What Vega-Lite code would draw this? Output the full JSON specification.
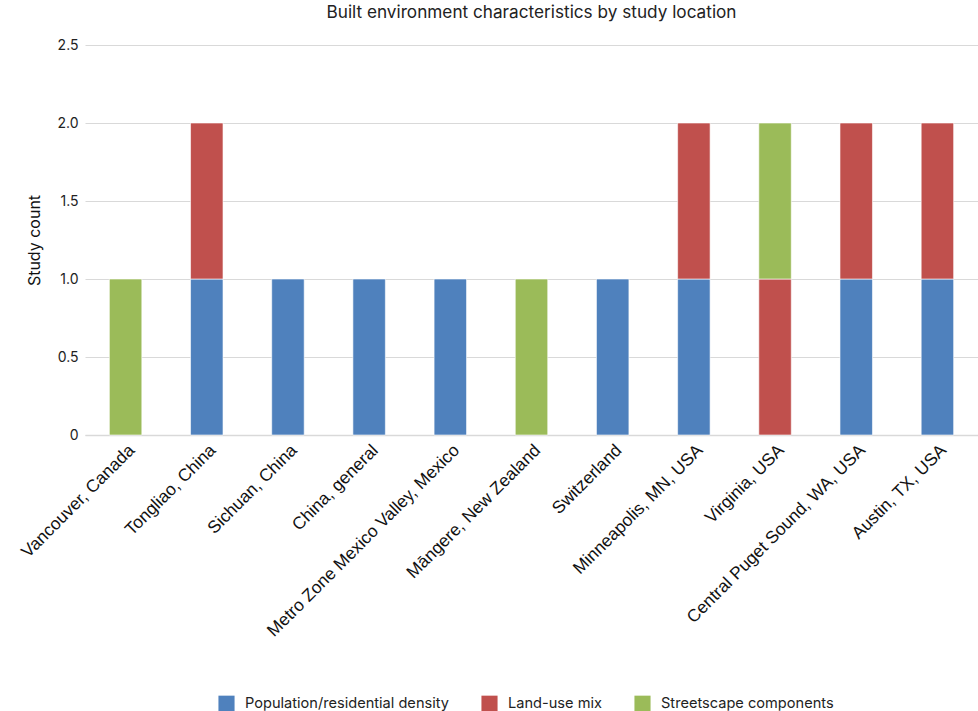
{
  "$schema": "https://vega.github.io/schema/vega-lite/v6.json",
  "autosize": {"type": "none"},
  "padding": {"left": 85, "top": 45, "right": 0, "bottom": 276},
  "width": 893,
  "height": 390,
  "background": "#ffffff",
  "title": {
    "text": "Built environment characteristics by study location",
    "font": "Inter",
    "fontSize": 17.2,
    "fontWeight": "normal",
    "color": "#222222",
    "anchor": "middle",
    "offset": 17
  },
  "data": {
    "values": [
      {"location": "Vancouver, Canada", "characteristic": "Streetscape components", "rank": 3, "count": 1},
      {"location": "Tongliao, China", "characteristic": "Population/residential density", "rank": 1, "count": 1},
      {"location": "Tongliao, China", "characteristic": "Land-use mix", "rank": 2, "count": 1},
      {"location": "Sichuan, China", "characteristic": "Population/residential density", "rank": 1, "count": 1},
      {"location": "China, general", "characteristic": "Population/residential density", "rank": 1, "count": 1},
      {"location": "Metro Zone Mexico Valley, Mexico", "characteristic": "Population/residential density", "rank": 1, "count": 1},
      {"location": "Māngere, New Zealand", "characteristic": "Streetscape components", "rank": 3, "count": 1},
      {"location": "Switzerland", "characteristic": "Population/residential density", "rank": 1, "count": 1},
      {"location": "Minneapolis, MN, USA", "characteristic": "Population/residential density", "rank": 1, "count": 1},
      {"location": "Minneapolis, MN, USA", "characteristic": "Land-use mix", "rank": 2, "count": 1},
      {"location": "Virginia, USA", "characteristic": "Land-use mix", "rank": 2, "count": 1},
      {"location": "Virginia, USA", "characteristic": "Streetscape components", "rank": 3, "count": 1},
      {"location": "Central Puget Sound, WA, USA", "characteristic": "Population/residential density", "rank": 1, "count": 1},
      {"location": "Central Puget Sound, WA, USA", "characteristic": "Land-use mix", "rank": 2, "count": 1},
      {"location": "Austin, TX, USA", "characteristic": "Population/residential density", "rank": 1, "count": 1},
      {"location": "Austin, TX, USA", "characteristic": "Land-use mix", "rank": 2, "count": 1}
    ]
  },
  "mark": {"type": "bar", "stroke": "#ffffff", "strokeOpacity": 0.6, "strokeWidth": 1},
  "encoding": {
    "x": {
      "field": "location",
      "type": "nominal",
      "sort": null,
      "scale": {"paddingInner": 0.6, "paddingOuter": 0.3},
      "axis": {
        "title": null,
        "labelAngle": -45,
        "labelFont": "Liberation Sans",
        "labelFontSize": 17.4,
        "labelColor": "#111111",
        "labelPadding": 6,
        "ticks": false,
        "domainColor": "#d9d9d9",
        "domainWidth": 1.5,
        "labelLimit": 400
      }
    },
    "y": {
      "field": "count",
      "type": "quantitative",
      "stack": "zero",
      "scale": {"domain": [0, 2.5], "nice": false},
      "axis": {
        "title": "Study count",
        "titleFont": "Inter",
        "titleFontSize": 16,
        "titleFontWeight": "normal",
        "titleColor": "#111111",
        "titlePadding": 14,
        "values": [0, 0.5, 1, 1.5, 2, 2.5],
        "labelExpr": "datum.value == 0 ? '0' : format(datum.value, '.1f')",
        "labelFont": "Inter",
        "labelFontSize": 14,
        "labelColor": "#222222",
        "labelPadding": 7,
        "ticks": false,
        "domain": false,
        "gridColor": "#d9d9d9",
        "gridWidth": 1
      }
    },
    "color": {
      "field": "characteristic",
      "type": "nominal",
      "scale": {
        "domain": ["Population/residential density", "Land-use mix", "Streetscape components"],
        "range": ["#4f81bd", "#c0504d", "#9bbb59"]
      },
      "legend": {
        "title": null,
        "orient": "none",
        "legendX": 133,
        "legendY": 650,
        "direction": "horizontal",
        "symbolType": "square",
        "symbolSize": 260,
        "symbolStrokeWidth": 0,
        "labelFont": "Inter",
        "labelFontSize": 14.6,
        "labelColor": "#222222",
        "labelLimit": 400,
        "labelOffset": 10,
        "columnPadding": 32
      }
    },
    "order": {"field": "rank", "type": "quantitative"}
  },
  "config": {"view": {"stroke": null}}
}
